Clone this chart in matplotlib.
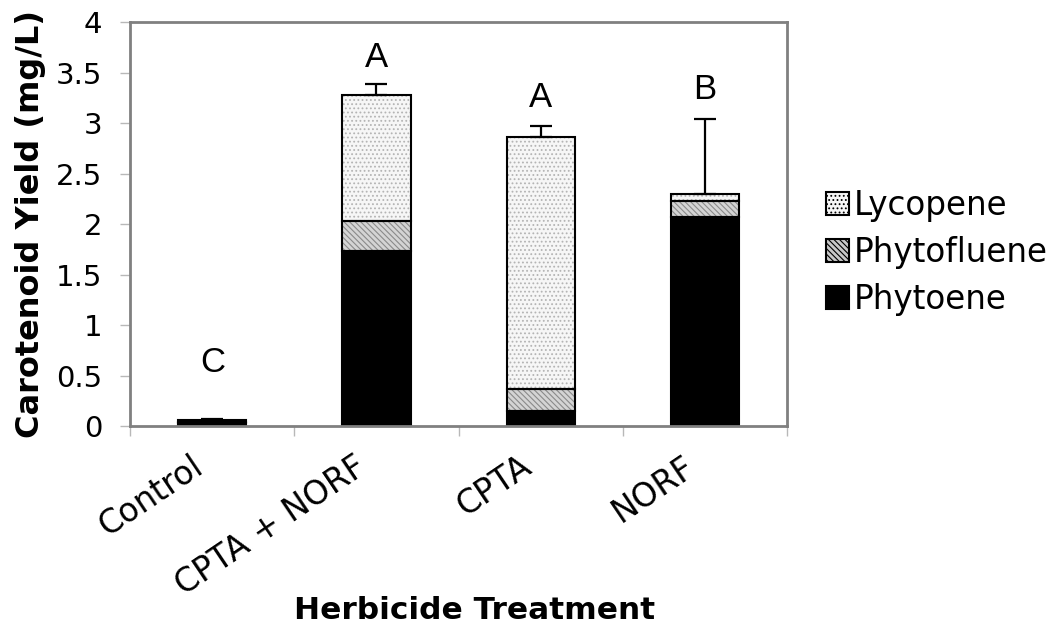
import numpy as np
import matplotlib.pyplot as plt
from matplotlib.transforms import ScaledTranslation

plt.rcParams['hatch.linewidth'] = 0.8

treatments = ['Control', 'CPTA + NORF', 'CPTA', 'NORF']
phytoene = [0.03, 1.73, 0.15, 2.07]
phytofluene = [0.01, 0.30, 0.22, 0.16]
lycopene = [0.02, 1.25, 2.49, 0.07]
err = [0.01, 0.11, 0.11, 0.74]
letters = ['C', 'A', 'A', 'B']
letter_y = [0.63, 3.65, 3.25, 3.33]

x = np.arange(len(treatments))
w = 0.415

fig = plt.figure(figsize=(10.5, 6.35), dpi=100)
ax = fig.add_axes([0.124, 0.329, 0.6255, 0.636])

bot = np.array(phytoene) + np.array(phytofluene)
tot = bot + np.array(lycopene)

# hatched fills first (hatch takes edge colour), black outlines on top
ax.bar(x, phytofluene, w, bottom=phytoene, color='#d4d4d4', edgecolor='#8a8a8a',
       linewidth=0, hatch='\\\\\\\\\\\\')
ax.bar(x, lycopene, w, bottom=bot, color='#f6f6f6', edgecolor='#b4b4b4',
       linewidth=0, hatch='....')
b1 = ax.bar(x, phytoene, w, color='black', edgecolor='black', linewidth=1.5)
ax.bar(x, phytofluene, w, bottom=phytoene, fill=False, edgecolor='black', linewidth=1.5)
ax.bar(x, lycopene, w, bottom=bot, fill=False, edgecolor='black', linewidth=1.5)

ax.errorbar(x, tot, yerr=[np.zeros(len(x)), err], fmt='none', ecolor='black',
            elinewidth=1.6, capsize=8, capthick=1.6)

for xi, lt, ly in zip(x, letters, letter_y):
    ax.text(xi, ly, lt, ha='center', va='center', fontsize=25,
            family='Liberation Sans')

ax.set_xlim(-0.5, 3.5)
ax.set_ylim(0, 4)
ax.set_yticks(np.arange(0, 4.01, 0.5))
ax.set_yticklabels(['0', '0.5', '1', '1.5', '2', '2.5', '3', '3.5', '4'])
ax.tick_params(axis='y', labelsize=21, length=7, color='#b8b8b8', width=1, pad=13)
ax.set_xticks(x)
ax.set_xticklabels(treatments, rotation=34, ha='right', rotation_mode='anchor',
                   fontsize=23.5)
ax.tick_params(axis='x', length=0, pad=17)
shift = ScaledTranslation(-16 / 72, 0, fig.dpi_scale_trans)
for lab in ax.get_xticklabels():
    lab.set_transform(lab.get_transform() + shift)
ax.set_xticks(np.arange(-0.5, 3.6, 1), minor=True)
ax.tick_params(axis='x', which='minor', length=7, color='#b8b8b8', width=1)

for s in ax.spines.values():
    s.set_color('#808080')
    s.set_linewidth(2)

ax.set_ylabel('Carotenoid Yield (mg/L)', fontsize=23, fontweight='bold')
ax.yaxis.set_label_coords(-0.128, 0.5)
fig.text(0.452, 0.025, 'Herbicide Treatment', ha='center', fontsize=22.5,
         fontweight='bold')

# legend proxies
h_lyc = plt.Rectangle((0, 0), 1, 1, facecolor='#f6f6f6', edgecolor='black',
                      linewidth=1.5, hatch='....')
h_phf = plt.Rectangle((0, 0), 1, 1, facecolor='#c8c8c8', edgecolor='black',
                      linewidth=1.5, hatch='\\\\\\\\\\\\')
h_pht = plt.Rectangle((0, 0), 1, 1, facecolor='black', edgecolor='black', linewidth=1.5)
ax.legend([h_lyc, h_phf, h_pht], ['Lycopene', 'Phytofluene', 'Phytoene'],
          loc='center left', bbox_to_anchor=(1.04, 0.43), frameon=False,
          fontsize=23.5, handlelength=0.7, handleheight=0.7, handletextpad=0.15,
          labelspacing=0.42, borderaxespad=0)

fig.savefig('out.png')
